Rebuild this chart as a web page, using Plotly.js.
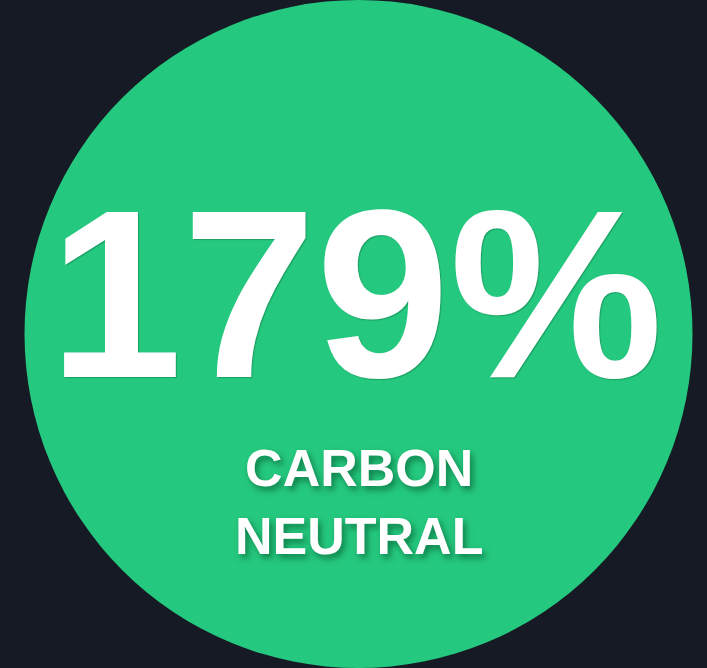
<!DOCTYPE html>
<html>
<head>
<meta charset="utf-8">
<script src="https://cdn.plot.ly/plotly-3.0.1.min.js"></script>
<style>
html,body{margin:0;padding:0;background:#161a24;}
#chart{width:707px;height:668px;}
</style>
</head>
<body>
<div id="chart"></div>
<script>
const categories = ["Carbon neutral"];
const values = [179];
const valueSuffix = "%";
const labelLines = ["CARBON", "NEUTRAL"];

const trace = {
  type: "pie",
  labels: categories,
  values: values,
  sort: false,
  textinfo: "none",
  hoverinfo: "none",
  marker: {colors: ["#25c87f"], line: {width: 0}},
  domain: {x: [0, 1], y: [0, 1]},
  showlegend: false
};

const layout = {
  width: 707,
  height: 668,
  margin: {l: 10, r: 0, t: 0, b: 0},
  paper_bgcolor: "#161a24",
  plot_bgcolor: "#161a24",
  showlegend: false,
  annotations: [
    {
      text: values[0] + valueSuffix,
      xref: "paper", yref: "paper",
      x: 0.497, y: 0.56,
      xanchor: "center", yanchor: "middle",
      showarrow: false,
      font: {family: "Liberation Sans, Arial, sans-serif", size: 240, color: "#ffffff", weight: "bold",
             shadow: "1px 1px 1px rgba(0,60,30,0.3)"}
    },
    {
      text: labelLines.join("<br>"),
      xref: "paper", yref: "paper",
      x: 0.5, y: 0.248,
      xanchor: "center", yanchor: "middle",
      showarrow: false,
      font: {family: "Liberation Sans, Arial, sans-serif", size: 52, color: "#ffffff", weight: "bold",
             shadow: "3px 4px 6px rgba(0,80,40,0.6)"}
    }
  ]
};

Plotly.newPlot("chart", [trace], layout, {displayModeBar: false, staticPlot: true});
</script>
</body>
</html>
